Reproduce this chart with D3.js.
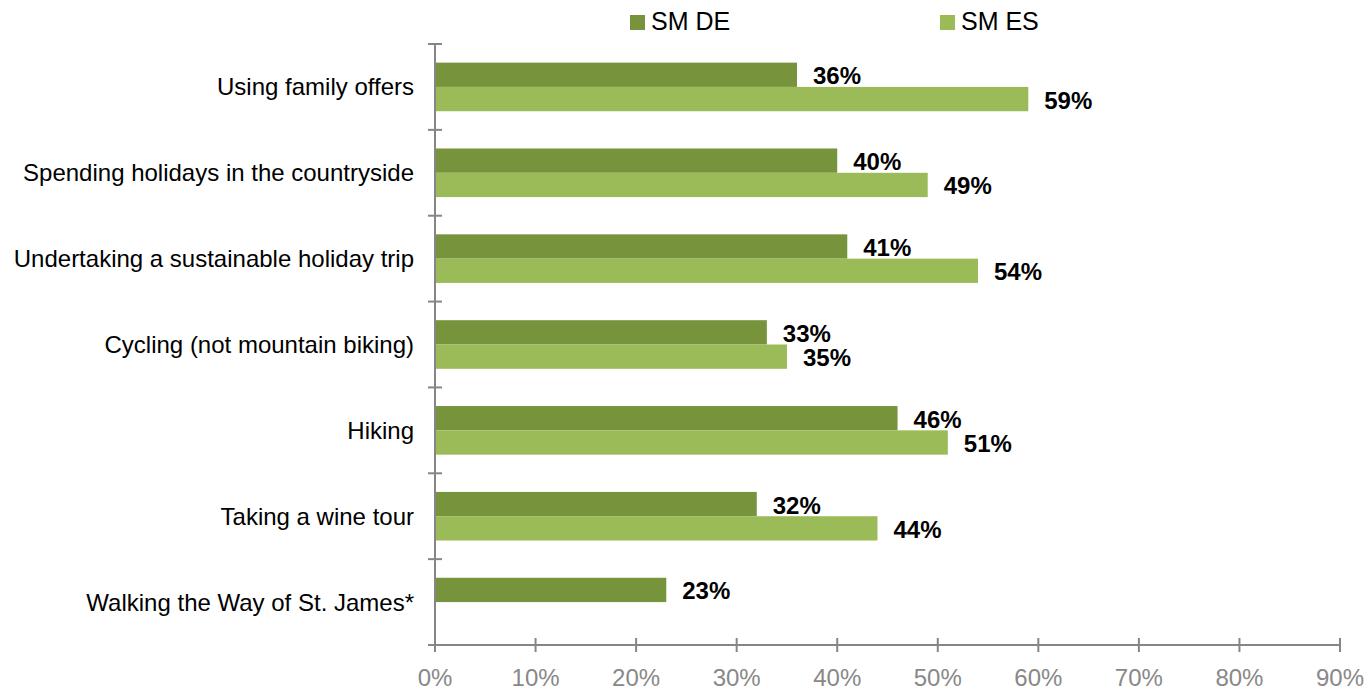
<!DOCTYPE html>
<html>
<head>
<meta charset="utf-8">
<script src="https://cdn.jsdelivr.net/npm/d3@7/dist/d3.min.js"></script>
<style>
  html, body { margin: 0; padding: 0; background: #ffffff; }
  svg { display: block; font-family: "Liberation Sans", Arial, sans-serif; }
</style>
</head>
<body>
<svg id="chart" width="1371" height="690"></svg>
<script>
// Activities, top to bottom
const categories = [
  "Using family offers",
  "Spending holidays in the countryside",
  "Undertaking a sustainable holiday trip",
  "Cycling (not mountain biking)",
  "Hiking",
  "Taking a wine tour",
  "Walking the Way of St. James*"
];
const seriesNames = ["SM DE", "SM ES"];
const smDE = [36, 40, 41, 33, 46, 32, 23];
const smES = [59, 49, 54, 35, 51, 44, null];
const xTicks = [0, 10, 20, 30, 40, 50, 60, 70, 80, 90];
const colors = ["#77933C", "#9BBB59"];

const svg = d3.select("#chart");
const plotLeft = 435, plotRight = 1340, plotTop = 44, plotBottom = 645;

const x = d3.scaleLinear().domain([0, 90]).range([plotLeft, plotRight]);
const y = d3.scaleBand().domain(categories).range([plotTop, plotBottom]).paddingInner(0).paddingOuter(0);
const groupH = 48.6;
const inner = d3.scaleBand().domain(seriesNames).range([0, groupH]);

const rows = categories.map((c, i) => ({ cat: c, vals: [smDE[i], smES[i]] }));

// Bars with value labels
const g = svg.append("g");
rows.forEach(r => {
  const y0 = y(r.cat) + (y.bandwidth() - groupH) / 2;
  r.vals.forEach((v, j) => {
    if (v == null) return;
    const by = y0 + inner(seriesNames[j]);
    g.append("rect")
      .attr("x", x(0))
      .attr("y", by)
      .attr("width", x(v) - x(0))
      .attr("height", inner.bandwidth())
      .attr("fill", colors[j]);
    g.append("text")
      .attr("x", x(v) + 16)
      .attr("y", by + inner.bandwidth() / 2 + 9.5)
      .attr("font-size", 24)
      .attr("font-weight", "bold")
      .attr("fill", "#000")
      .text(v + "%");
  });
});

const axisColor = "#868686";

// Vertical category axis
const yAxis = svg.append("g");
yAxis.append("line")
  .attr("x1", plotLeft).attr("x2", plotLeft)
  .attr("y1", plotTop).attr("y2", plotBottom)
  .attr("stroke", axisColor).attr("stroke-width", 2);
const yTickPos = categories.map(c => y(c)).concat([plotBottom]);
yAxis.selectAll("line.tick").data(yTickPos).enter().append("line")
  .attr("class", "tick")
  .attr("x1", plotLeft - 7).attr("x2", plotLeft + 7)
  .attr("y1", d => d).attr("y2", d => d)
  .attr("stroke", axisColor).attr("stroke-width", 2);
yAxis.selectAll("text").data(categories).enter().append("text")
  .attr("x", 414)
  .attr("y", d => y(d) + y.bandwidth() / 2 + 8.5)
  .attr("text-anchor", "end")
  .attr("font-size", 24)
  .attr("fill", "#000")
  .text(d => d);

// Horizontal value axis
const xAxis = svg.append("g");
xAxis.append("line")
  .attr("x1", plotLeft).attr("x2", plotRight)
  .attr("y1", plotBottom).attr("y2", plotBottom)
  .attr("stroke", axisColor).attr("stroke-width", 2);
xAxis.selectAll("line.tick").data(xTicks).enter().append("line")
  .attr("class", "tick")
  .attr("x1", d => x(d)).attr("x2", d => x(d))
  .attr("y1", plotBottom - 7).attr("y2", plotBottom + 7)
  .attr("stroke", axisColor).attr("stroke-width", 2);
xAxis.selectAll("text").data(xTicks).enter().append("text")
  .attr("x", d => x(d))
  .attr("y", 686)
  .attr("text-anchor", "middle")
  .attr("font-size", 24)
  .attr("fill", "#888888")
  .text(d => d + "%");

// Legend
const legendX = [630, 940];
const legend = svg.append("g");
seriesNames.forEach((s, i) => {
  legend.append("rect")
    .attr("x", legendX[i]).attr("y", 15)
    .attr("width", 15).attr("height", 15)
    .attr("fill", colors[i]);
  legend.append("text")
    .attr("x", legendX[i] + 21)
    .attr("y", 30)
    .attr("font-size", 25)
    .attr("fill", "#000")
    .text(s);
});
</script>
</body>
</html>
